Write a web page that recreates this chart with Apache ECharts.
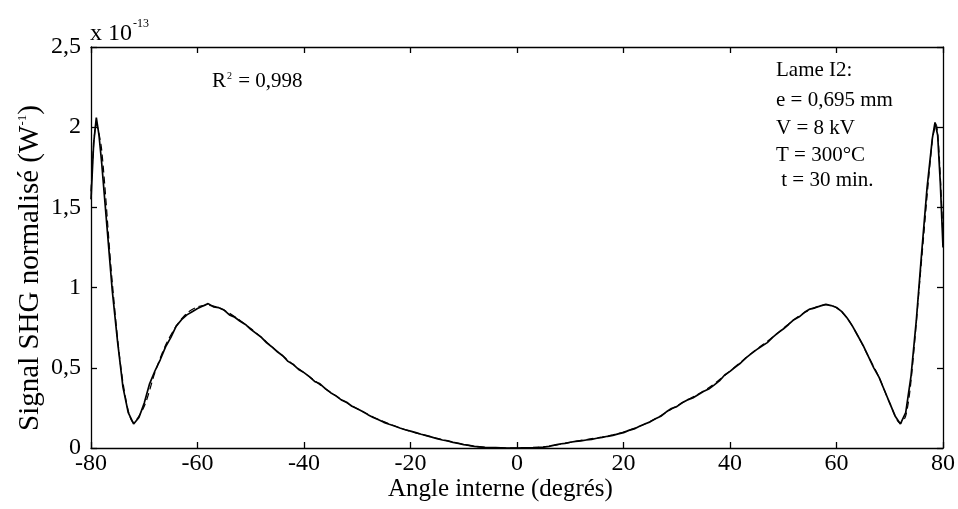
<!DOCTYPE html>
<html>
<head>
<meta charset="utf-8">
<script src="https://cdn.jsdelivr.net/npm/echarts@6/dist/echarts.min.js"></script>
<style>
  html, body { margin: 0; padding: 0; background: #fff; }
  #chart { width: 958px; height: 509px; }
</style>
</head>
<body>
<div id="chart"></div>
<script>
// Internal angle (degrees) and normalised SHG signal (units of 1e-13 W^-1)
const measuredAngle = [
  -80, -79.5, -79, -78.5, -78, -77, -76, -75, -74, -73, -72, -71, -70, -69, -68, -67, -66, -65, -64, -63,
  -62, -61, -60, -59, -58, -57, -56, -55, -54, -53, -52, -51, -50, -49, -48, -47, -46, -45, -44, -43,
  -42, -41, -40, -39, -38, -37, -36, -35, -34, -33, -32, -31, -30, -29, -28, -27, -26, -25, -24, -23,
  -22, -21, -20, -19, -18, -17, -16, -15, -14, -13, -12, -11, -10, -9, -8, -7, -6, -5, -4, -3,
  -2, -1, 0, 1, 2, 3, 4, 5, 6, 7, 8, 9, 10, 11, 12, 13, 14, 15, 16, 17,
  18, 19, 20, 21, 22, 23, 24, 25, 26, 27, 28, 29, 30, 31, 32, 33, 34, 35, 36, 37,
  38, 39, 40, 41, 42, 43, 44, 45, 46, 47, 48, 49, 50, 51, 52, 53, 54, 55, 56, 57,
  58, 59, 60, 61, 62, 63, 64, 65, 66, 67, 68, 69, 70, 71, 72, 73, 74, 75, 76, 77,
  78, 78.5, 79, 79.5, 80
];
const measuredSignal = [
  1.55, 1.90, 2.06, 1.95, 1.78, 1.38, 0.98, 0.66, 0.38, 0.22, 0.15, 0.19, 0.28, 0.40, 0.48, 0.55, 0.63, 0.69, 0.76, 0.80,
  0.83, 0.85, 0.87, 0.885, 0.90, 0.88, 0.875, 0.86, 0.83, 0.815, 0.79, 0.77, 0.74, 0.715, 0.69, 0.655, 0.63, 0.60, 0.575, 0.54,
  0.52, 0.49, 0.47, 0.445, 0.415, 0.40, 0.37, 0.345, 0.325, 0.30, 0.285, 0.26, 0.245, 0.228, 0.208, 0.19, 0.176, 0.16, 0.148, 0.137,
  0.125, 0.114, 0.105, 0.096, 0.086, 0.077, 0.068, 0.058, 0.050, 0.044, 0.035, 0.029, 0.021, 0.016, 0.010, 0.007, 0.004, 0.003, 0.002, 0.001,
  0.0, 0.0, 0.0, 0.001, 0.001, 0.002, 0.004, 0.006, 0.010, 0.018, 0.025, 0.029, 0.036, 0.041, 0.044, 0.050, 0.054, 0.061, 0.066, 0.073,
  0.079, 0.088, 0.096, 0.110, 0.119, 0.136, 0.150, 0.163, 0.182, 0.198, 0.224, 0.246, 0.258, 0.282, 0.300, 0.312, 0.332, 0.352, 0.368, 0.392,
  0.418, 0.455, 0.478, 0.505, 0.530, 0.562, 0.588, 0.613, 0.636, 0.657, 0.690, 0.718, 0.742, 0.770, 0.800, 0.818, 0.846, 0.866, 0.874, 0.886,
  0.895, 0.888, 0.876, 0.850, 0.810, 0.760, 0.700, 0.640, 0.570, 0.500, 0.440, 0.360, 0.280, 0.200, 0.150, 0.220, 0.450, 0.800, 1.220, 1.620,
  1.930, 2.030, 1.950, 1.650, 1.250
];

// Fitted model curve
const fitAngle = [
  -80, -79, -78, -76, -74, -72, -70, -68, -66, -64, -62, -60, -58, -56, -54, -52, -50, -48, -46, -44,
  -42, -40, -38, -36, -34, -32, -30, -28, -26, -24, -22, -20, -18, -16, -14, -12, -10, -8, -6, -4,
  -2, 0, 2, 4, 6, 8, 10, 12, 14, 16, 18, 20, 22, 24, 26, 28, 30, 32, 34, 36,
  38, 40, 42, 44, 46, 48, 50, 52, 54, 56, 58, 60, 62, 64, 66, 68, 70, 72, 73, 74,
  76, 78, 78.7, 80
];
const fitSignal = [
  1.60, 2.02, 1.86, 1.03, 0.41, 0.16, 0.26, 0.47, 0.64, 0.76, 0.84, 0.88, 0.89, 0.875, 0.84, 0.795, 0.745, 0.69, 0.63, 0.575,
  0.52, 0.47, 0.42, 0.37, 0.325, 0.283, 0.245, 0.21, 0.178, 0.15, 0.125, 0.104, 0.086, 0.069, 0.052, 0.036, 0.022, 0.011, 0.004, 0.001,
  0.0, 0.0, 0.001, 0.004, 0.011, 0.022, 0.035, 0.047, 0.058, 0.068, 0.082, 0.100, 0.122, 0.150, 0.182, 0.222, 0.262, 0.300, 0.335, 0.375,
  0.425, 0.480, 0.535, 0.590, 0.640, 0.690, 0.745, 0.800, 0.845, 0.877, 0.893, 0.875, 0.810, 0.700, 0.570, 0.440, 0.280, 0.155, 0.200, 0.420,
  1.180, 1.920, 2.020, 1.300
];

const xTickLabels = ['-80', '-60', '-40', '-20', '0', '20', '40', '60', '80'];
const yTickLabels = ['0', '0,5', '1', '1,5', '2', '2,5'];

const sampleLines = ['Lame I2:', 'e = 0,695 mm', 'V = 8 kV', 'T = 300°C', ' t = 30 min.'];

const zip = (a, b) => a.map((v, i) => [v, b[i]]);
const serif = '"Liberation Serif", "Times New Roman", serif';

const chart = echarts.init(document.getElementById('chart'), null, { renderer: 'canvas' });

// Shared style of the four frame axes (ticks drawn inwards)
const frameAxisX = {
  type: 'value', min: -80, max: 80, interval: 20,
  axisLine: { show: true, onZero: false, lineStyle: { color: '#000', width: 1.3 } },
  axisTick: { show: true, inside: true, length: 6, lineStyle: { color: '#000', width: 1.3 } },
  splitLine: { show: false }
};
const frameAxisY = {
  type: 'value', min: 0, max: 2.5, interval: 0.5,
  axisLine: { show: true, onZero: false, lineStyle: { color: '#000', width: 1.3 } },
  axisTick: { show: true, inside: true, length: 6, lineStyle: { color: '#000', width: 1.3 } },
  splitLine: { show: false }
};

chart.setOption({
  backgroundColor: '#fff',
  animation: false,
  grid: { left: 91, right: 15, top: 47, bottom: 61 },
  xAxis: [
    Object.assign({}, frameAxisX, {
      position: 'bottom',
      axisLabel: {
        show: true, margin: 4, color: '#000', fontFamily: serif, fontSize: 24,
        formatter: v => xTickLabels[Math.round((v + 80) / 20)]
      }
    }),
    Object.assign({}, frameAxisX, { position: 'top', axisLabel: { show: false } })
  ],
  yAxis: [
    Object.assign({}, frameAxisY, {
      position: 'left',
      axisLabel: {
        show: true, margin: 10, color: '#000', fontFamily: serif, fontSize: 24,
        formatter: v => yTickLabels[Math.round(v / 0.5)]
      }
    }),
    Object.assign({}, frameAxisY, { position: 'right', axisLabel: { show: false } })
  ],
  series: [
    {
      type: 'line', name: 'mesure', xAxisIndex: 0, yAxisIndex: 0,
      data: zip(measuredAngle, measuredSignal),
      showSymbol: false, smooth: false,
      lineStyle: { color: '#000', width: 1.7 }
    },
    {
      type: 'line', name: 'ajustement', xAxisIndex: 0, yAxisIndex: 0,
      data: zip(fitAngle, fitSignal),
      showSymbol: false, smooth: 0.3,
      lineStyle: { color: '#000', width: 1.2, type: [7, 4] }
    }
  ],
  graphic: [
    {
      type: 'text', left: 90, top: 18,
      style: {
        text: '{b|x 10}{s|-13}',
        rich: {
          b: { fontFamily: serif, fontSize: 24, fill: '#000', verticalAlign: 'bottom' },
          s: { fontFamily: serif, fontSize: 12, fill: '#000', verticalAlign: 'top', padding: [0, 0, 16, 1] }
        }
      }
    },
    {
      type: 'text', left: 212, top: 71,
      style: {
        text: '{b|R}{s|2}{b| = 0,998}',
        rich: {
          b: { fontFamily: serif, fontSize: 21, fill: '#000' },
          s: { fontFamily: serif, fontSize: 10, fill: '#000', padding: [0, 1, 11, 1] }
        }
      }
    },
    ...sampleLines.map((t, i) => ({
      type: 'text', left: 776, top: 60 + [0, 30, 58, 85, 110][i],
      style: { text: t, fontFamily: serif, fontSize: 21, fill: '#000' }
    })),
    {
      type: 'text', left: 388, top: 477,
      style: { text: 'Angle interne (degrés)', fontFamily: serif, fontSize: 25, fill: '#000' }
    },
    {
      type: 'text', x: 30, y: 268, rotation: Math.PI / 2,
      style: {
        text: '{b|Signal SHG normalisé (W}{s|-1}{b|)}',
        align: 'center', verticalAlign: 'middle',
        rich: {
          b: { fontFamily: serif, fontSize: 29, fill: '#000' },
          s: { fontFamily: serif, fontSize: 13, fill: '#000', padding: [0, 0, 14, 0] }
        }
      }
    }
  ]
});
</script>
</body>
</html>
